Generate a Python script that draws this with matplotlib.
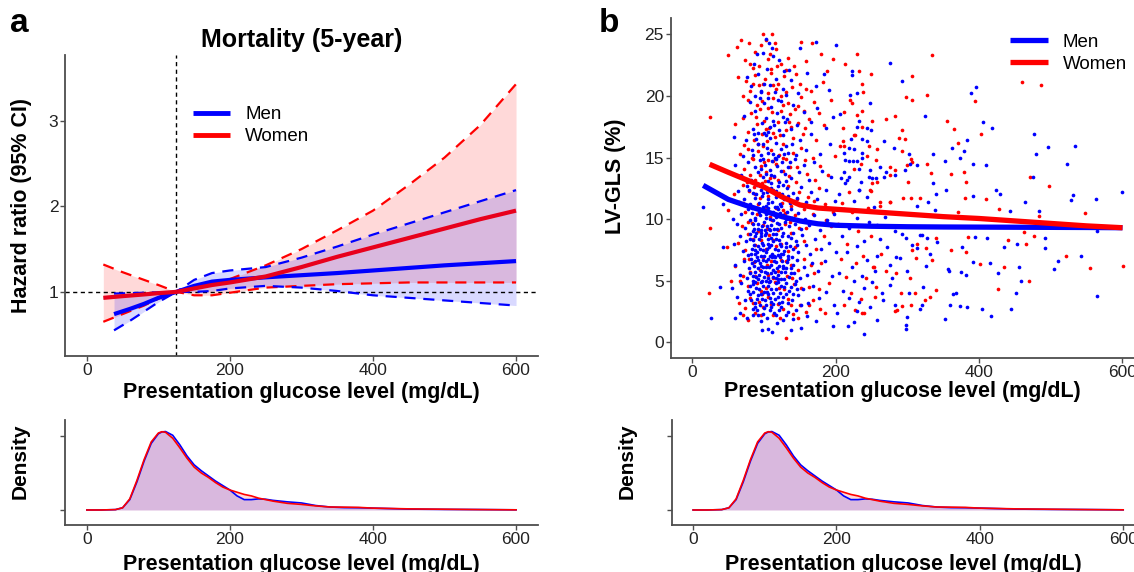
import numpy as np
import matplotlib.pyplot as plt

plt.rcParams['font.family'] = ['Liberation Sans', 'DejaVu Sans']

# ---- panel a: hazard ratio splines (5-year mortality) ----
ref_glucose = 125
women_x = [23, 50, 80, 100, 125, 150, 175, 200, 250, 300, 350, 400, 450, 500, 550, 600]
women_hr = [0.93, 0.95, 0.97, 0.985, 1.0, 1.04, 1.08, 1.11, 1.18, 1.29, 1.41, 1.52, 1.63, 1.74, 1.85, 1.95]
women_lo = [0.65, 0.74, 0.84, 0.92, 1.0, 0.96, 0.96, 0.99, 1.05, 1.07, 1.09, 1.10, 1.11, 1.11, 1.11, 1.11]
women_hi = [1.32, 1.23, 1.14, 1.08, 1.0, 1.04, 1.09, 1.15, 1.31, 1.50, 1.72, 1.95, 2.25, 2.57, 2.95, 3.43]

men_x = [38, 60, 80, 100, 125, 150, 175, 200, 250, 300, 350, 400, 450, 500, 550, 600]
men_hr = [0.74, 0.80, 0.86, 0.93, 1.0, 1.07, 1.12, 1.14, 1.17, 1.195, 1.22, 1.25, 1.28, 1.31, 1.335, 1.36]
men_lo = [0.55, 0.66, 0.77, 0.88, 1.0, 1.0, 1.01, 1.04, 1.07, 1.05, 1.01, 0.96, 0.93, 0.90, 0.87, 0.84]
men_hi = [0.98, 0.985, 0.99, 0.995, 1.0, 1.14, 1.22, 1.25, 1.29, 1.40, 1.53, 1.67, 1.80, 1.93, 2.06, 2.19]

# ---- panel b: LV-GLS smooth lines ----
women_sm_x = [24, 50, 75, 100, 125, 150, 175, 200, 250, 300, 350, 400, 450, 500, 550, 600]
women_sm_y = [14.45, 13.8, 13.2, 12.6, 11.8, 11.15, 10.9, 10.8, 10.6, 10.4, 10.2, 10.05, 9.85, 9.65, 9.45, 9.3]
men_sm_x = [15, 50, 75, 100, 125, 150, 175, 200, 250, 300, 350, 400, 450, 500, 550, 600]
men_sm_y = [12.74, 11.6, 11.1, 10.66, 10.2, 9.85, 9.62, 9.5, 9.42, 9.38, 9.36, 9.35, 9.34, 9.33, 9.32, 9.3]

# scatter points (glucose, LV-GLS)
men_pts = [
    # dense column
    (103,24.6),(107,24.3),(111,23.9),(98,23.5),(121,22.9),(113,23.2),(90,23.4),(150,23.9),(173,24.4),(201,24.1),(135,22.1),(86,22.6),(128,22.0),
    (92,21.8),(104,22.2),(117,21.4),(82,20.8),(96,20.4),(108,20.9),(126,20.6),(138,21.3),(147,20.2),(160,21.9),(183,21.8),(190,20.5),(76,21.5),(100,21.0),(131,20.1),(115,20.3),(172,20.8),
    (80,19.5),(88,18.8),(94,19.8),(102,18.2),(110,19.1),(118,18.6),(124,19.6),(132,18.1),(140,19.3),(146,17.6),(155,18.7),(165,17.9),(174,19.0),(187,17.4),(196,18.3),(85,17.3),(97,17.8),(106,17.1),(114,17.6),(121,17.2),(129,17.9),(137,17.3),(58,16.7),(72,18.4),(91,17.0),(100,19.4),(108,17.5),
    (75,16.4),(83,15.6),(89,16.5),(95,15.2),(99,16.1),(104,15.8),(108,16.6),(112,15.3),(117,16.2),(123,15.7),(127,16.8),(133,15.4),(139,16.1),(144,15.2),(150,16.4),(158,15.6),(166,16.9),(178,15.3),(192,16.1),(86,16.9),(102,16.8),(115,15.0),(130,15.9),(70,15.1),
    (68,13.6),(78,14.6),(82,13.2),(87,14.2),(91,13.8),(94,14.8),(98,13.4),(101,14.4),(105,13.1),(108,14.0),(111,14.7),(114,13.5),(118,14.3),(121,13.0),(125,14.6),(129,13.7),(134,14.2),(138,13.3),(143,14.9),(149,13.8),(156,14.4),(163,13.2),(170,14.6),(181,13.9),(194,13.4),(60,14.4),(96,14.1),(103,13.7),(116,14.9),(131,13.1),
    (45,11.8),(63,12.3),(72,11.6),(76,12.7),(80,11.2),(84,12.1),(88,11.7),(90,12.8),(93,11.3),(95,12.4),(97,11.9),(100,12.6),(102,11.1),(104,12.2),(106,11.6),(109,12.9),(111,11.4),(113,12.3),(116,11.8),(119,12.7),(122,11.2),(125,12.0),(128,11.6),(132,12.5),(136,11.3),(141,12.1),(146,11.7),(152,12.6),(158,11.4),(165,12.2),(174,11.6),(186,12.4),(199,11.5),(118,11.0),(99,11.0),(86,12.9),
    (15,11.0),(42,11.2),(57,10.0),(62,9.6),(68,10.4),(73,9.3),(77,10.8),(80,9.9),(83,10.5),(86,9.2),(88,10.1),(90,10.9),(92,9.6),(94,10.3),(96,9.1),(98,10.7),(100,9.8),(102,10.4),(104,9.4),(106,10.9),(108,10.0),(110,9.5),(112,10.6),(114,9.2),(116,10.2),(118,9.7),(120,10.8),(123,9.3),(126,10.3),(129,9.8),(132,10.6),(135,9.4),(139,10.1),(143,9.6),(147,10.5),(152,9.2),(157,10.0),(163,9.5),(170,10.3),(178,9.1),(188,9.9),(197,10.4),(84,9.6),(101,9.1),(122,10.5),
    (42,7.7),(58,8.0),(66,8.6),(71,7.4),(75,8.2),(78,7.1),(81,8.8),(83,7.6),(85,8.3),(87,7.2),(89,8.9),(91,7.8),(93,8.4),(95,7.0),(97,8.1),(99,7.5),(101,8.7),(103,7.3),(105,8.0),(107,7.7),(109,8.5),(111,7.2),(113,8.2),(115,7.6),(117,8.8),(119,7.1),(121,8.3),(123,7.8),(125,8.6),(128,7.4),(131,8.1),(134,7.0),(137,8.5),(140,7.6),(144,8.2),(148,7.3),(153,8.7),(158,7.9),(164,7.2),(171,8.4),(180,7.6),(190,8.1),(200,7.3),(88,7.5),(96,8.6),(108,7.0),(126,7.2),
    (60,6.3),(67,5.5),(72,6.6),(76,5.2),(79,6.0),(82,6.8),(84,5.4),(86,6.2),(88,5.7),(90,6.9),(92,5.1),(94,6.4),(96,5.8),(98,6.7),(100,5.3),(102,6.1),(104,5.6),(106,6.8),(108,5.0),(110,6.3),(112,5.9),(114,6.6),(116,5.2),(118,6.0),(120,5.5),(122,6.9),(124,5.1),(126,6.2),(129,5.7),(132,6.5),(135,5.3),(138,6.0),(142,5.6),(146,6.7),(150,5.2),(155,6.1),(160,5.5),(167,6.4),(175,5.8),(185,6.6),(195,5.4),(91,6.0),(103,5.0),(115,6.9),(127,6.0),(139,6.9),
    (55,4.4),(62,3.7),(68,4.8),(74,3.4),(78,4.2),(81,3.9),(84,4.7),(87,3.2),(89,4.4),(92,3.8),(95,4.9),(97,3.5),(100,4.1),(103,3.0),(105,4.6),(108,3.6),(110,4.3),(113,3.1),(116,4.8),(119,3.7),(122,4.0),(125,3.3),(128,4.5),(131,3.9),(135,4.2),(139,3.4),(143,4.7),(148,3.8),(154,4.3),(161,3.2),(168,4.6),(177,3.6),(187,4.1),(198,3.0),(38,4.5),(94,3.0),(106,3.9),(120,4.9),
    (26,2.0),(60,2.0),(67,2.35),(76,1.95),(85,2.7),(92,2.2),(96,1.7),(97,1.0),(105,1.05),(111,0.86),(100,2.8),(114,2.4),(118,1.6),(124,2.9),(130,2.2),(137,1.0),(144,2.6),(152,1.2),(160,2.1),(172,1.7),(196,1.35),(202,2.35),(88,2.9),(108,2.6),
    # dense core, second pass
    (79,12.4),(83,10.9),(87,9.9),(89,12.0),(93,10.6),(97,9.4),(99,12.1),(103,10.1),(105,11.3),(107,9.2),(110,12.5),(112,9.9),(115,11.0),(117,12.3),(121,9.6),(124,11.1),(127,12.8),(130,10.0),(133,11.9),(137,10.8),(142,11.5),(148,9.9),(155,11.1),
    (80,8.4),(82,7.2),(84,9.0),(86,7.9),(88,8.6),(90,7.3),(92,9.2),(94,7.6),(96,8.9),(98,7.9),(100,7.0),(102,8.9),(104,7.6),(106,8.4),(108,9.1),(110,7.9),(112,8.8),(114,7.0),(116,8.4),(118,9.2),(120,7.5),(122,8.0),(124,7.2),(127,8.9),(130,7.7),(133,8.6),(136,7.8),(141,8.9),(146,7.9),
    (80,5.6),(83,6.4),(85,5.0),(87,6.6),(89,5.3),(91,6.7),(93,5.5),(95,6.2),(97,5.0),(99,6.1),(101,5.7),(103,6.6),(105,5.2),(107,6.1),(109,5.6),(111,6.9),(113,5.3),(115,5.7),(117,6.5),(119,5.1),(121,6.2),(123,5.7),(125,6.6),(128,5.1),(131,6.0),(134,6.8),(137,5.6),(141,6.3),(145,5.0),
    (80,4.6),(82,3.4),(85,4.1),(88,4.9),(90,3.5),(93,4.3),(96,3.9),(98,4.6),(101,3.4),(104,4.1),(107,4.9),(109,3.3),(112,4.0),(115,3.5),(117,4.3),(121,3.2),(124,4.6),(127,3.7),(130,4.8),(133,3.2),(137,4.5),(141,3.9),(146,4.3),(151,3.0),
    (84,2.2),(90,2.6),(99,2.3),(104,2.0),(110,2.9),(116,2.2),(121,2.6),(127,1.8),(134,2.5),(140,1.9),
    (84,15.2),(92,16.1),(98,14.9),(106,15.4),(110,13.6),(119,15.1),(123,13.9),(128,15.3),(136,14.6),(100,17.0),(112,18.0),(126,18.3),(95,20.3),(105,19.8),(120,19.7),(88,20.0),
    # middle band
    (205,12.0),(212,10.8),(219,9.3),(226,11.5),(233,12.4),(240,8.2),(247,9.8),(253,11.0),(208,8.6),(215,7.3),(222,6.1),(229,7.8),(236,5.4),(243,6.7),(250,4.9),(257,7.0),(204,5.6),(210,4.2),(218,3.6),(225,5.0),(232,3.3),(240,4.4),(248,2.9),(255,5.8),(262,8.4),(268,10.2),(275,6.3),(282,9.0),(213,12.9),(230,10.1),(244,11.8),(258,9.5),(265,4.0),(272,7.7),
    # sparse right side
    (276,22.7),(222,22.0),(222,21.7),(292,21.2),(395,20.7),(220,20.1),(230,20.2),(388,20.2),(248,19.4),(206,18.5),(325,18.4),(232,18.0),(405,17.9),(229,17.5),(243,17.4),(249,17.2),(221,16.5),(236,16.5),(243,16.3),(267,16.3),(383,16.4),(219,15.8),(225,15.7),(281,15.75),(362,15.8),(211,15.4),(237,15.4),(302,15.3),(336,15.3),(379,15.5),(213,14.8),(219,14.7),(224,14.7),(229,14.7),(236,15.0),(353,14.7),(374,15.0),(391,14.45),(409,14.4),(304,14.5),(313,14.4),(233,14.1),(248,14.0),(262,14.25),(270,13.85),(297,14.0),(212,13.85),(207,13.3),(216,13.2),(219,13.45),(235,13.0),(246,13.4),(250,13.3),(256,13.3),(267,13.4),(283,13.6),(335,12.9),
    (233,12.36),(354,12.36),(340,12.0),(392,11.9),(313,11.1),(338,10.7),(328,11.4),(394,8.57),(411,8.44),(376,7.76),(332,7.2),(314,7.62),(392,6.5),(375,5.68),(381,5.5),(356,5.95),(358,5.8),(368,4.0),(363,3.9),(360,3.02),(374,2.94),(383,2.89),(404,2.67),(322,4.5),(320,3.02),(318,2.67),(352,1.87),(302,4.0),(282,3.02),(299,2.08),(298,1.4),(298,1.05),(257,1.81),(240,0.67),(225,1.67),(217,1.35),(229,2.54),(266,3.43),(276,4.65),(299,5.78),(278,5.2),(289,6.82),(284,6.9),(306,7.9),(298,8.44),(292,8.77),(317,8.7),(320,8.7),(341,8.17),(327,8.44),(326,6.2),
    (418,17.4),(476,16.9),(496,15.85),(534,15.96),(479,15.3),(523,14.45),(475,13.45),
    (424,12.39),(429,12.01),(464,11.36),(531,11.96),(528,11.52),(563,11.63),(600,12.17),(443,10.68),(483,10.68),(564,9.03),(492,8.44),(453,8.0),(434,7.76),(492,7.68),(542,7.0),(510,6.57),(505,5.92),(415,6.41),(455,6.08),(426,5.65),(458,5.0),(451,3.99),(565,3.75),(445,2.68),(417,2.1),
]
women_pts = [
    # dense column
    (99,25.0),(111,25.0),(68,24.5),(79,24.3),(151,24.4),(167,24.3),(50,23.3),(62,24.0),(180,23.4),(196,23.0),(88,23.6),(95,24.1),(105,23.0),(117,23.8),(123,22.6),(133,23.1),(142,22.4),(158,22.8),(84,22.3),(110,22.2),(73,22.9),
    (75,21.2),(81,20.4),(87,21.7),(93,20.9),(97,19.6),(101,21.4),(106,20.2),(109,21.9),(113,19.8),(119,21.0),(124,20.0),(128,21.6),(134,19.4),(139,20.7),(145,21.8),(152,19.9),(159,20.6),(170,19.5),(182,21.1),(193,19.7),(70,20.0),(90,19.3),(116,20.6),(130,20.3),(148,19.2),(64,21.5),
    (70,18.2),(77,17.1),(82,18.6),(86,16.4),(90,17.7),(94,18.9),(97,16.9),(100,18.0),(104,16.3),(107,17.4),(111,18.7),(115,16.7),(119,17.9),(123,18.8),(126,16.1),(131,17.2),(136,18.5),(141,16.6),(147,17.8),(154,16.9),(162,18.1),(172,16.4),(184,17.6),(60,17.7),(92,16.1),(113,17.0),(138,17.5),(156,18.8),(24,18.3),
    (66,15.3),(72,14.1),(77,15.7),(81,13.6),(85,14.9),(88,13.2),(92,15.5),(95,14.3),(99,15.9),(103,13.8),(106,14.8),(110,15.6),(114,13.4),(117,14.5),(121,15.2),(126,13.9),(130,14.9),(135,13.5),(140,15.4),(146,14.2),(152,15.8),(160,13.7),(168,15.0),(178,14.3),(189,13.6),(199,15.1),(63,13.5),(101,13.1),
    (58,12.0),(65,11.4),(70,12.8),(74,10.6),(79,12.3),(83,11.0),(86,12.6),(90,10.4),(94,11.7),(97,12.9),(101,10.8),(105,11.9),(108,10.2),(112,12.4),(117,10.9),(121,12.1),(125,11.3),(129,10.5),(133,12.7),(138,11.1),(143,10.3),(149,12.2),(155,10.8),(161,11.8),(168,10.4),(176,12.5),(185,11.2),(196,10.6),(50,10.7),
    (25,9.3),(64,8.1),(69,9.4),(74,7.5),(78,8.8),(83,9.7),(87,7.9),(91,9.0),(95,8.3),(99,9.5),(103,7.6),(107,8.7),(111,9.9),(116,7.8),(120,9.1),(124,8.0),(129,9.6),(133,7.4),(138,8.9),(143,7.7),(149,9.3),(156,8.2),(164,9.8),(173,7.6),(183,8.6),(194,9.4),(48,7.7),
    (60,6.2),(67,5.0),(72,6.8),(77,4.6),(81,5.7),(86,6.5),(90,4.8),(94,5.9),(98,6.9),(102,4.4),(106,5.5),(110,6.6),(115,4.9),(119,5.8),(123,6.7),(128,4.3),(132,5.4),(137,6.3),(142,4.7),(148,5.9),(155,6.8),(162,4.5),(170,5.6),(180,6.4),(191,4.8),(23,4.0),(54,5.0),
    (65,3.2),(73,2.8),(80,3.6),(87,2.4),(93,3.3),(99,2.9),(105,3.7),(112,2.2),(119,3.1),(126,2.7),(131,0.37),(134,3.5),(141,2.3),(150,3.0),(158,2.5),(168,3.4),(185,2.35),(78,1.8),(97,3.9),
    # dense column, second pass
    (72,16.0),(78,19.7),(84,21.0),(89,18.3),(93,22.4),(98,21.0),(102,17.3),(105,19.0),(108,23.4),(112,20.9),(118,22.4),(122,16.8),(127,19.3),(131,22.1),(135,17.9),(143,18.9),(150,21.0),(157,17.4),(166,20.4),(176,18.6),(188,22.0),(80,22.6),(115,24.3),(102,24.5),
    (76,13.0),(83,15.0),(87,12.0),(94,13.6),(100,14.6),(108,13.3),(113,14.7),(120,13.2),(127,15.0),(136,14.2),(145,13.0),(157,14.8),(171,13.2),
    (71,11.3),(77,9.8),(84,8.4),(92,11.2),(104,9.2),(113,8.3),(127,10.7),(136,9.8),(146,11.6),(158,9.3),(170,11.5),(187,9.9),
    (70,5.4),(79,6.8),(88,5.4),(96,4.2),(104,6.3),(113,5.2),(121,4.4),(130,6.6),(139,5.2),(152,4.4),(165,6.3),(176,4.3),
    (70,2.2),(84,3.2),(95,2.2),(109,3.1),(122,2.0),(137,3.0),(147,2.0),(162,3.0),(178,2.7),
    # middle band
    (203,9.6),(209,11.3),(216,8.0),(223,10.6),(231,9.0),(238,7.0),(245,10.9),(252,6.1),(207,6.8),(214,5.3),(221,4.0),(228,6.4),(235,3.5),(242,5.2),(249,8.6),(256,4.5),(263,7.2),(270,5.8),(211,3.0),(227,2.6),(248,12.4),(262,11.4),(276,11.4),(240,2.4),(219,12.2),
    # sparse right side
    (230,23.4),(213,22.6),(334,23.3),(232,22.0),(249,21.8),(306,21.6),(236,21.0),(238,20.3),(327,20.1),(298,19.9),(307,19.7),(220,19.7),(223,19.45),(394,19.6),(237,18.8),(212,18.7),(230,18.45),(283,18.4),(270,18.15),(250,18.0),(355,18.0),(210,17.4),(237,17.5),(292,17.2),(365,17.3),(403,16.9),(227,16.8),(225,16.8),(288,16.55),(296,16.5),(210,16.3),(371,16.2),(206,15.9),(212,15.9),(246,15.9),(257,15.7),(292,15.55),(244,15.1),(256,14.8),(235,14.5),(305,14.85),(306,14.6),(327,14.45),(275,14.2),(225,14.1),(283,14.0),(299,14.4),(333,13.75),(361,13.7),(379,13.8),(258,13.0),(250,12.9),(275,13.55),(301,13.0),(382,13.0),
    (249,12.3),(318,11.7),(305,11.7),(294,11.7),(380,11.7),(410,11.63),(370,10.6),(343,10.25),(276,11.4),(262,11.1),(384,8.52),(382,7.35),(340,8.44),(326,7.62),(334,6.7),(313,8.0),(306,7.49),(312,6.87),(401,6.33),(340,4.25),(331,3.67),(325,3.43),(305,3.02),(292,2.94),(283,2.54),(286,2.6),(237,2.41),(255,3.7),(291,4.0),(311,4.0),(303,5.25),(284,5.6),(253,6.14),(361,7.49),
    (460,21.1),(487,20.85),(471,13.45),
    (497,12.69),(428,10.82),(484,10.28),(548,10.47),(463,8.98),(477,8.65),(440,8.28),(466,7.95),(521,7.0),(554,6.0),(601,6.17),(435,6.14),(469,5.0),(427,4.35),
]

# ---- glucose density (relative units) ----
dens_x = [0, 20, 40, 50, 60, 70, 80, 90, 100, 105, 110, 120, 130, 140, 150, 160, 170, 180, 190, 200,
          210, 220, 230, 240, 250, 260, 280, 300, 320, 340, 360, 380, 400, 450, 500, 550, 600]
dens_women = [0, 0, 0.005, 0.03, 0.15, 0.40, 0.68, 0.92, 1.04, 1.058, 1.05, 0.97, 0.84, 0.70, 0.58, 0.50, 0.44, 0.37, 0.31, 0.27,
              0.24, 0.21, 0.19, 0.16, 0.14, 0.12, 0.09, 0.075, 0.055, 0.04, 0.038, 0.035, 0.025, 0.015, 0.01, 0.005, 0.002]
dens_men = [0, 0, 0.005, 0.03, 0.14, 0.38, 0.66, 0.90, 1.03, 1.055, 1.06, 1.01, 0.88, 0.73, 0.61, 0.53, 0.46, 0.39, 0.33, 0.27,
            0.19, 0.14, 0.14, 0.15, 0.145, 0.13, 0.11, 0.095, 0.06, 0.04, 0.032, 0.03, 0.025, 0.012, 0.008, 0.006, 0.002]

BLUE = '#0000ff'
RED = '#ff0000'
W, H = 1134, 572


def px_axes(left, top, right, bottom):
    return [left / W, 1 - bottom / H, (right - left) / W, (bottom - top) / H]


def style(ax):
    for s in ['top', 'right']:
        ax.spines[s].set_visible(False)
    for s in ['left', 'bottom']:
        ax.spines[s].set_color('#4d4d4d')
        ax.spines[s].set_linewidth(1.3)
    ax.tick_params(length=3.5, width=1, color='#4d4d4d', labelsize=12.5,
                   labelcolor='#222222', pad=1.5)


fig = plt.figure(figsize=(11.34, 5.72), dpi=100)

axA = fig.add_axes(px_axes(65.4, 55, 537.5, 356))
axB = fig.add_axes(px_axes(670.9, 18.3, 1144, 357.7))
axC = fig.add_axes(px_axes(65.4, 420, 537.5, 525))
axD = fig.add_axes(px_axes(671.6, 420, 1144.7, 525))

# panel a
axA.fill_between(women_x, women_lo, women_hi, color=RED, alpha=0.15, lw=0)
axA.fill_between(men_x, men_lo, men_hi, color=BLUE, alpha=0.15, lw=0)
axA.axhline(1, color='black', lw=1, dashes=(3, 2.5))
axA.axvline(ref_glucose, color='black', lw=1, dashes=(3, 2.5))
for xs, lo, hi, c in [(women_x, women_lo, women_hi, RED), (men_x, men_lo, men_hi, BLUE)]:
    axA.plot(xs, lo, color=c, lw=1.6, dashes=(5, 3.5))
    axA.plot(xs, hi, color=c, lw=1.6, dashes=(5, 3.5))
axA.plot(men_x, men_hr, color=BLUE, lw=3, label='Men', solid_capstyle='butt')
axA.plot(women_x, women_hr, color='#e8001c', lw=3, label='Women', solid_capstyle='butt')
axA.set_xlim(-30, 630)
axA.set_ylim(0.25, 3.77)
axA.set_xticks([0, 200, 400, 600])
axA.set_yticks([1, 2, 3])
style(axA)
leg = axA.legend(handles=axA.lines[-2:], labels=['Men', 'Women'], loc='upper left',
                 bbox_to_anchor=(0.27, 0.83), frameon=False, fontsize=13.5,
                 handlelength=2.0, handletextpad=0.8, labelspacing=0.25,
                 borderpad=0, borderaxespad=0)
leg.get_lines()[1].set_color(RED)
for l in leg.get_lines():
    l.set_linewidth(3.5)
axA.set_xlabel('Presentation glucose level (mg/dL)', fontsize=15.5, fontweight='bold')
axA.xaxis.set_label_coords(0.5, -0.12)
axA.xaxis.label.set_va('center')
axA.set_ylabel('Hazard ratio (95% CI)', fontsize=15.5, fontweight='bold')
axA.yaxis.set_label_coords(-0.092, 0.5)
axA.yaxis.label.set_va('center')
fig.text(301.8 / W, 1 - 40 / H, 'Mortality (5-year)', ha='center', va='center',
         fontsize=18, fontweight='bold')

# panel b
wp = np.array(women_pts)
mp = np.array(men_pts)
axB.scatter(wp[:, 0], wp[:, 1], s=7, color=RED, linewidths=0)
axB.scatter(mp[:, 0], mp[:, 1], s=7, color=BLUE, linewidths=0)
axB.plot(men_sm_x, men_sm_y, color=BLUE, lw=3.8, label='Men', solid_capstyle='butt')
axB.plot(women_sm_x, women_sm_y, color=RED, lw=3.8, label='Women', solid_capstyle='butt')
axB.set_xlim(-30, 630)
axB.set_ylim(-1.25, 26.3)
axB.set_xticks([0, 200, 400, 600])
axB.set_yticks([0, 5, 10, 15, 20, 25])
style(axB)
axB.legend(loc='upper left', bbox_to_anchor=(0.717, 0.955), frameon=False, fontsize=13.5,
           handlelength=2.0, handletextpad=0.8, labelspacing=0.25,
           borderpad=0, borderaxespad=0)
axB.set_xlabel('Presentation glucose level (mg/dL)', fontsize=15.5, fontweight='bold')
axB.xaxis.set_label_coords(0.49, -0.101)
axB.xaxis.label.set_va('center')
axB.set_ylabel('LV-GLS (%)', fontsize=15.5, fontweight='bold')
axB.yaxis.set_label_coords(-0.118, 0.535)
axB.yaxis.label.set_va('center')

# density panels
for ax in [axC, axD]:
    ax.fill_between(dens_x, 0, dens_women, color=RED, alpha=0.15, lw=0)
    ax.fill_between(dens_x, 0, dens_men, color=BLUE, alpha=0.15, lw=0)
    ax.plot(dens_x, dens_men, color=BLUE, lw=1.2)
    ax.plot(dens_x, dens_women, color=RED, lw=1.2)
    ax.set_xlim(-30, 630)
    ax.set_ylim(-0.203, 1.216)
    ax.set_xticks([0, 200, 400, 600])
    ax.set_yticks([0, 1])
    ax.set_yticklabels(['', ''])
    style(ax)
    ax.set_xlabel('Presentation glucose level (mg/dL)', fontsize=15.5, fontweight='bold')
    ax.xaxis.set_label_coords(0.5 if ax is axC else 0.49, -0.38)
    ax.xaxis.label.set_va('center')
    ax.set_ylabel('Density', fontsize=15, fontweight='bold')
    ax.yaxis.set_label_coords(-0.095, 0.61)
    ax.yaxis.label.set_va('center')

fig.text(19 / W, 1 - 24 / H, 'a', ha='center', va='center', fontsize=24, fontweight='bold')
fig.text(609 / W, 1 - 24 / H, 'b', ha='center', va='center', fontsize=24, fontweight='bold')

fig.savefig('out.png', dpi=100)
